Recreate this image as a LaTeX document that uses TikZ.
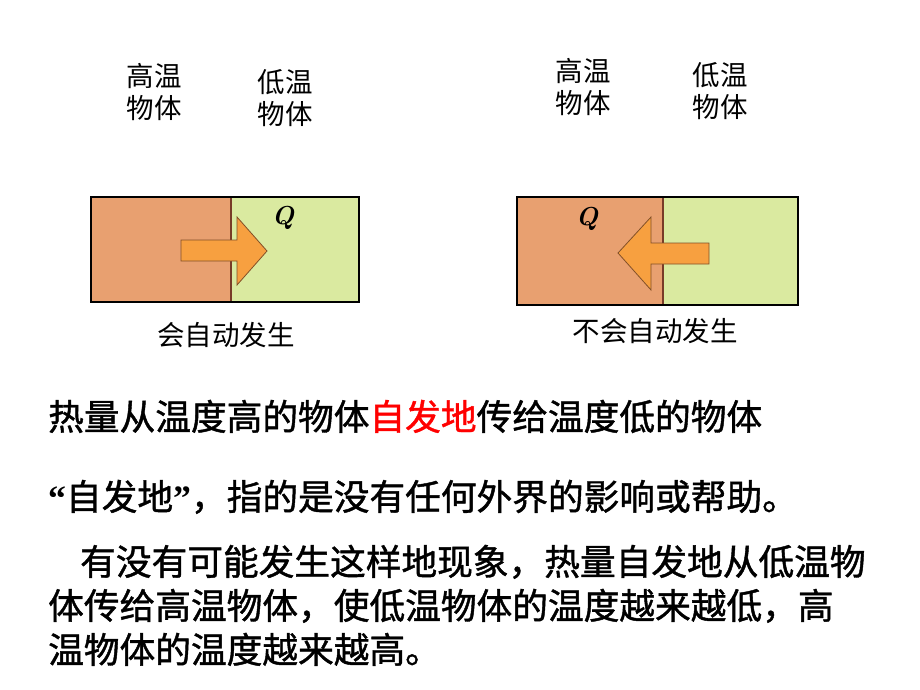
\documentclass[tikz,border=0pt]{standalone}
\usepackage{fontspec}
\newfontfamily\cjk{Noto Sans CJK SC}
\newfontfamily\cjkb[FakeBold=1.2]{Noto Sans CJK SC}
\newfontfamily\qfont{Liberation Serif}
\newcommand{\myopenq}{{\qfont\bfseries “}}
\newcommand{\mycloseq}{{\qfont\bfseries ”}}
\definecolor{hotfill}{RGB}{232,160,112}
\definecolor{hotedge}{RGB}{120,60,40}
\definecolor{coldfill}{RGB}{218,234,160}
\definecolor{arrowfill}{RGB}{247,160,64}
\definecolor{arrowedge}{RGB}{130,80,40}
\definecolor{hilite}{RGB}{255,0,0}
\begin{document}
\begin{tikzpicture}[x=1pt,y=-1pt,
  lbl/.style={font=\cjk\fontsize{27.5}{32}\selectfont, align=center, inner sep=0pt},
  body/.style={font=\cjkb\fontsize{35.7}{40}\selectfont, anchor=base west, inner sep=0pt},
  qlbl/.style={font=\fontsize{26}{28}\selectfont\bfseries\itshape, inner sep=0pt},
  hot/.style={fill=hotfill, draw=hotedge, line width=1.5pt},
  cold/.style={fill=coldfill, draw=black, line width=2pt},
  outer/.style={draw=black, line width=2pt},
  heatarrow/.style={fill=arrowfill, draw=arrowedge, line width=0.8pt, line join=miter}]
\useasboundingbox[fill=white] (0,0) rectangle (920,690);

% left box
\draw[cold] (91,197) rectangle (359,302);
\draw[hot] (91,197) rectangle (231,302);
\draw[outer] (91,197) rectangle (359,302);
\draw[heatarrow] (181,240) -- (237,240) -- (237,217) -- (267,251) -- (237,285) -- (237,261) -- (181,261) -- cycle;
\node[qlbl] (q1) at (283,218) {Q};

% right box
\draw[cold] (517,197) rectangle (798,305);
\draw[hot] (517,197) rectangle (663,305);
\draw[outer] (517,197) rectangle (798,305);
\draw[heatarrow] (709,243) -- (651,243) -- (651,217) -- (618,253) -- (651,290) -- (651,264) -- (709,264) -- cycle;
\node[qlbl] (q2) at (587,219) {Q};

% labels
\node[lbl] (hot1) at (154,92) {高温\\物体};
\node[lbl] (cold1) at (285,98) {低温\\物体};
\node[lbl] (hot2) at (583,87) {高温\\物体};
\node[lbl] (cold2) at (720,91) {低温\\物体};
\node[lbl] (cap1) at (226,335) {会自动发生};
\node[lbl] (cap2) at (655,331) {不会自动发生};

% body text
\node[body] (t1) at (48,430) {热量从温度高的物体\textcolor{hilite}{自发地}传给温度低的物体};
\node[body] (t2) at (48,510) {\myopenq 自发地\mycloseq ，指的是没有任何外界的影响或帮助。};
\node[body] (t3) at (80,575) {有没有可能发生这样地现象，热量自发地从低温物};
\node[body] (t4) at (48,619) {体传给高温物体，使低温物体的温度越来越低，高};
\node[body] (t5) at (48,663) {温物体的温度越来越高。};
\end{tikzpicture}
\end{document}
